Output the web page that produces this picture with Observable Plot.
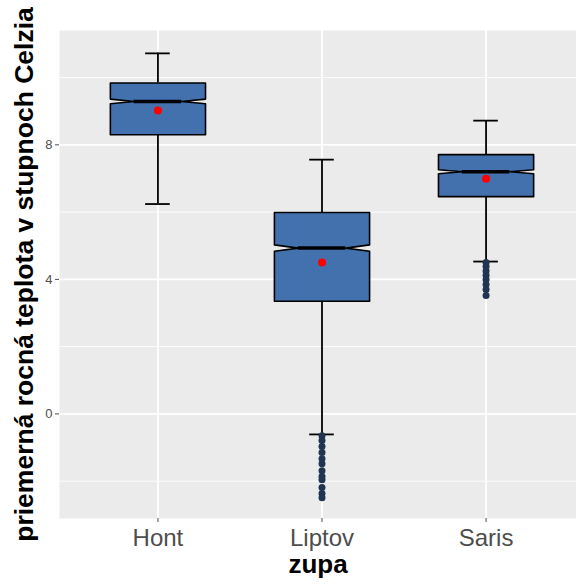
<!DOCTYPE html>
<html>
<head>
<meta charset="utf-8">
<script src="https://cdn.jsdelivr.net/npm/d3@7"></script>
<script src="https://cdn.jsdelivr.net/npm/@observablehq/plot@0.6"></script>
<style>
  html, body { margin: 0; padding: 0; background: white; overflow: hidden; }
</style>
</head>
<body>
<div id="chart"></div>
<script>
// ---- data ----
const zupa = ["Hont", "Liptov", "Saris"];
const whiskerLow = [6.24, -0.61, 4.53];
const q1 = [8.30, 3.35, 6.46];
const median = [9.29, 4.93, 7.20];
const q3 = [9.84, 5.99, 7.71];
const whiskerHigh = [10.72, 7.56, 8.72];
const notchHalf = [0.07, 0.095, 0.06];
const mean = [9.02, 4.50, 6.99];
const outliersLiptov = [-0.65, -0.79, -0.97, -1.15, -1.33, -1.48, -1.69, -1.86, -1.96, -2.19, -2.37, -2.49];
const outliersSaris = [4.50, 4.38, 4.25, 4.12, 4.00, 3.85, 3.70, 3.52];
const yTicks = [0, 4, 8];
const yMinor = [-2, 2, 6, 10];
const yTitle = "priemerná rocná teplota v stupnoch Celzia";
const xTitle = "zupa";

// ---- derived tables ----
const BW = 0.29;   // half box width (in category units)
const CAP = 0.075; // half cap width
const pos = zupa.map((z, i) => i + 1);

const stats = zupa.map((z, i) => ({
  z, x: pos[i], lo: whiskerLow[i], q1: q1[i], med: median[i], q3: q3[i],
  hi: whiskerHigh[i], n: notchHalf[i], mean: mean[i]
}));

const boxPoly = stats.flatMap(s => [
  [s.x - BW, s.q3], [s.x + BW, s.q3], [s.x + BW, s.med + s.n], [s.x + BW / 2, s.med],
  [s.x + BW, s.med - s.n], [s.x + BW, s.q1], [s.x - BW, s.q1], [s.x - BW, s.med - s.n],
  [s.x - BW / 2, s.med], [s.x - BW, s.med + s.n]
].map(([x, y]) => ({ z: s.z, x, y })));

const outliers = [
  ...outliersLiptov.map(v => ({ x: 2, y: v })),
  ...outliersSaris.map(v => ({ x: 3, y: v }))
];

const chart = Plot.plot({
  width: 576,
  height: 584,
  marginLeft: 59,
  marginRight: 0,
  marginTop: 30,
  marginBottom: 66,
  style: { fontFamily: "'Liberation Sans', Arial, Helvetica, sans-serif", background: "white", overflow: "hidden" },
  x: { type: "linear", domain: [0.4, 3.6], range: [59, 584] },
  y: { domain: [-3.11, 11.40] },
  marks: [
    Plot.frame({ fill: "#EBEBEB", stroke: "none" }),
    Plot.ruleY(yMinor, { stroke: "white", strokeWidth: 0.9 }),
    Plot.ruleY(yTicks, { stroke: "white", strokeWidth: 1.8 }),
    Plot.ruleX(pos, { stroke: "white", strokeWidth: 1.8 }),
    // whiskers
    Plot.ruleX(stats, { x: "x", y1: "lo", y2: "q1", stroke: "black", strokeWidth: 1.8 }),
    Plot.ruleX(stats, { x: "x", y1: "q3", y2: "hi", stroke: "black", strokeWidth: 1.8 }),
    // caps
    Plot.ruleY(stats, { y: "lo", x1: d => d.x - CAP, x2: d => d.x + CAP, stroke: "black", strokeWidth: 1.8 }),
    Plot.ruleY(stats, { y: "hi", x1: d => d.x - CAP, x2: d => d.x + CAP, stroke: "black", strokeWidth: 1.8 }),
    // notched boxes
    Plot.line(boxPoly, { x: "x", y: "y", z: "z", curve: "linear-closed", fill: "#4271AE", stroke: "black", strokeWidth: 1.6 }),
    // medians
    Plot.ruleY(stats, { y: "med", x1: d => d.x - BW / 2, x2: d => d.x + BW / 2, stroke: "black", strokeWidth: 3.5 }),
    // outliers
    Plot.dot(outliers, { x: "x", y: "y", r: 3.5, fill: "#1F3552", stroke: "none" }),
    // means
    Plot.dot(stats, { x: "x", y: "mean", r: 4, fill: "red", stroke: "none" }),
    // axes
    Plot.axisY({ ticks: yTicks, tickSize: 4, tickPadding: 3, fontSize: 13, color: "#4D4D4D", label: null }),
    Plot.axisX({ ticks: pos, tickSize: 4, tickPadding: 6, fontSize: 24, color: "#4D4D4D", tickFormat: d => zupa[d - 1], label: null }),
    // titles
    Plot.text([yTitle], { text: d => d, frameAnchor: "left", dx: -35, rotate: -90, textAnchor: "middle", lineAnchor: "middle", fontSize: 26.5, fontWeight: "bold", fill: "black" }),
    Plot.text([xTitle], { text: d => d, frameAnchor: "bottom", dy: 46, textAnchor: "middle", lineAnchor: "middle", fontSize: 26, fontWeight: "bold", fill: "black" })
  ]
});
document.getElementById("chart").appendChild(chart);
</script>
</body>
</html>
